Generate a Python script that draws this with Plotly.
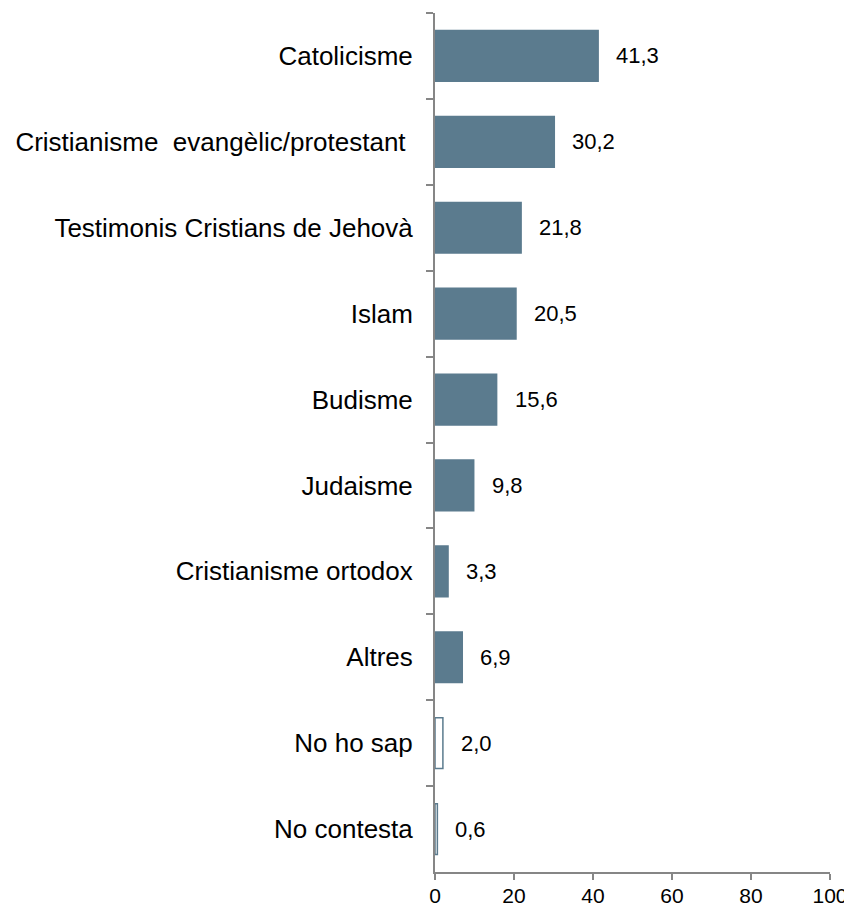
import plotly.graph_objects as go

# Dades
religions = [
    "Catolicisme",
    "Cristianisme\u00a0 evangèlic/protestant\u00a0",
    "Testimonis Cristians de Jehovà",
    "Islam",
    "Budisme",
    "Judaisme",
    "Cristianisme ortodox",
    "Altres",
    "No ho sap",
    "No contesta",
]
percentatges = [41.3, 30.2, 21.8, 20.5, 15.6, 9.8, 3.3, 6.9, 2.0, 0.6]
sense_resposta = ["No ho sap", "No contesta"]

BAR = "#5b7b8e"
AXIS = "#868686"
FONT = "Liberation Sans, Arial, sans-serif"

fills = ["white" if r in sense_resposta else BAR for r in religions]

fig = go.Figure(go.Bar(
    x=percentatges, y=religions, orientation="h",
    marker=dict(color=fills, line=dict(color=BAR, width=1.5)),
    hoverinfo="skip",
))

for r, v in zip(religions, percentatges):
    fig.add_annotation(x=v, y=r, text=f"{v:.1f}".replace(".", ","),
                       xanchor="left", xshift=16, showarrow=False,
                       font=dict(size=22, color="black", family=FONT))

# la pàgina té 8 px de marge al body: la figura es fa 8 px més petita
fig.update_layout(
    width=844, height=901,
    margin=dict(l=427, r=22, t=5, b=37),
    plot_bgcolor="white", paper_bgcolor="white",
    bargap=0.41, showlegend=False,
    font=dict(family=FONT, color="black"),
)
fig.update_xaxes(
    range=[0, 100], tickvals=[0, 20, 40, 60, 80, 100],
    showgrid=False, zeroline=False, automargin=False,
    showline=True, linecolor=AXIS, linewidth=2,
    ticks="outside", ticklen=6, tickwidth=2, tickcolor=AXIS,
    tickfont=dict(size=21, family=FONT), ticklabelstandoff=-2,
)
fig.update_yaxes(
    autorange="reversed", tickson="boundaries",
    showgrid=False, zeroline=False, automargin=False,
    showline=True, linecolor=AXIS, linewidth=2,
    ticks="outside", ticklen=7, tickwidth=2, tickcolor=AXIS,
    tickfont=dict(size=26, family=FONT), ticklabelstandoff=15,
)

fig.write_html("out.html")
